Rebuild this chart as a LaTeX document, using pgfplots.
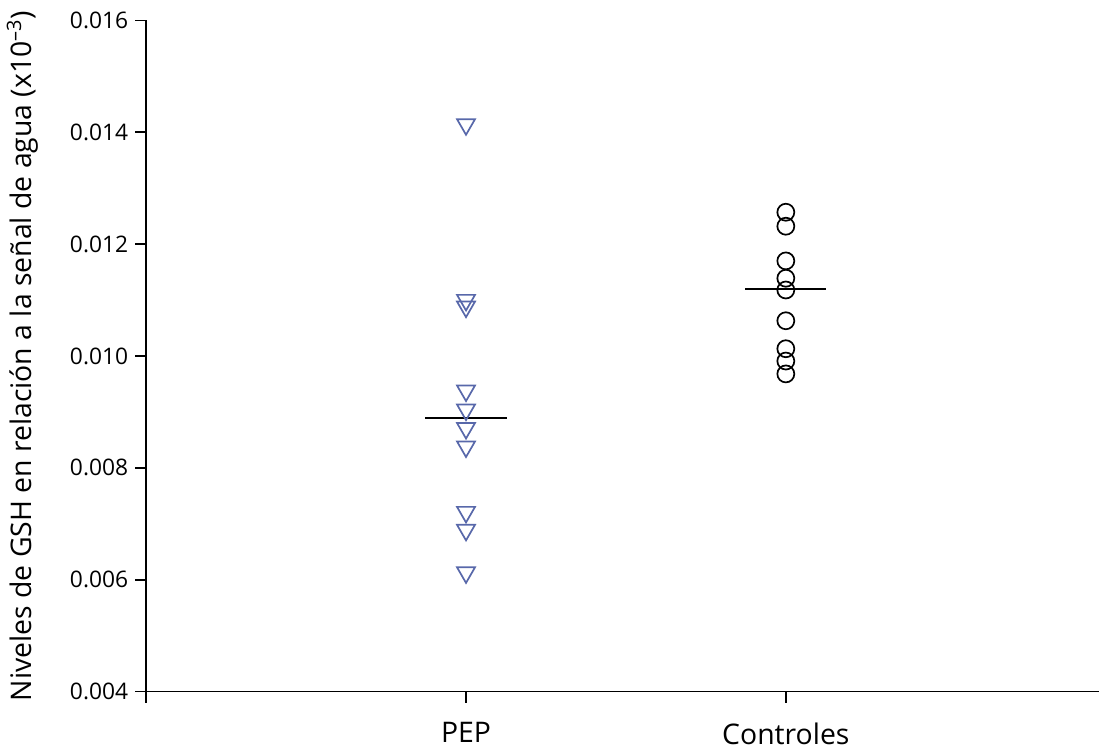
\documentclass[border=0pt]{standalone}
\usepackage{pgfplots}
\pgfplotsset{compat=1.18}
\usepackage{fontspec}
\setmainfont{Open Sans}
\definecolor{triblue}{RGB}{88,104,170}
\begin{document}
\begin{tikzpicture}
\begin{axis}[
  scale only axis,
  width=477pt, height=336pt,
  xmin=-1, xmax=1.98,
  ymin=0.004, ymax=0.016,
  axis x line*=bottom, axis y line*=left,
  axis line style={line width=0.75pt},
  every tick/.style={black, line width=0.75pt},
  tick align=outside, major tick length=5.5pt,
  xtick={-1,0,1}, xticklabels={,PEP,Controles},
  ytick={0.004,0.006,0.008,0.010,0.012,0.014,0.016},
  scaled y ticks=false,
  yticklabel style={font=\fontsize{11.4}{13}\selectfont, /pgf/number format/fixed, /pgf/number format/fixed zerofill, /pgf/number format/precision=3, /pgf/number format/assume math mode=true},
  xticklabel style={font=\fontsize{14.2}{16}\selectfont, yshift=-6.5pt},
  ylabel={Niveles de GSH en relación a la señal de agua (x10\textsuperscript{–3})},
  ylabel style={font=\fontsize{14.2}{16}\selectfont, at={(ticklabel cs:0.5,9pt)}},
  clip=false,
]
\addplot[only marks, mark=triangle, mark size=5.2pt, mark options={rotate=180, draw=triblue, line width=0.85pt, fill=none}] coordinates {
(0,0.01414) (0,0.01100) (0,0.01088) (0,0.00938) (0,0.00904) (0,0.00871) (0,0.00838) (0,0.00721) (0,0.00689) (0,0.00613)
};
\addplot[only marks, mark=o, mark size=4.25pt, mark options={draw=black, line width=0.85pt}] coordinates {
(1,0.01257) (1,0.01232) (1,0.01170) (1,0.01139) (1,0.01118) (1,0.01063) (1,0.01013) (1,0.00991) (1,0.00968)
};
\addplot[black, line width=0.75pt] coordinates {(-0.127,0.00889) (0.127,0.00889)};
\addplot[black, line width=0.75pt] coordinates {(0.873,0.0112) (1.127,0.0112)};
\end{axis}
\path (current bounding box.north west) ++(0,2pt);
\end{tikzpicture}
\end{document}
